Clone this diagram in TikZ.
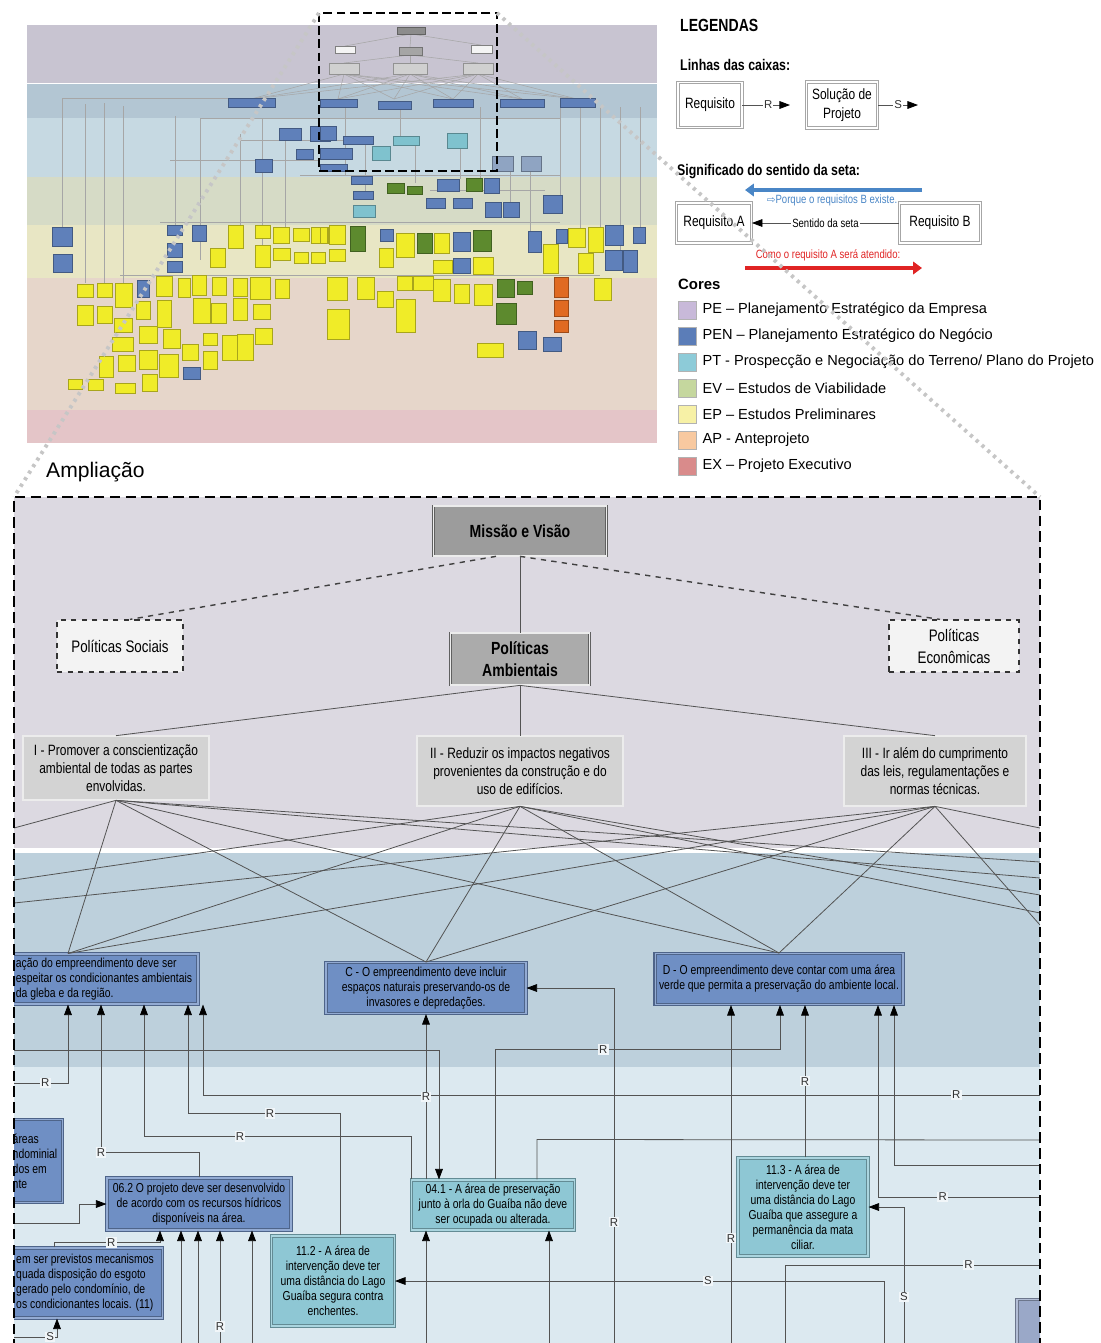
\documentclass[tikz,border=0pt]{standalone}
\usepackage{fontspec}
\setmainfont{Liberation Sans}
\newfontfamily\narrow[FakeStretch=0.8]{Liberation Sans}
\newfontfamily\symb{DejaVu Sans}
\usetikzlibrary{arrows.meta,calc}

% band colours
\definecolor{ovpe}{HTML}{C8C4D1}
\definecolor{ovpen}{HTML}{B3C6D3}
\definecolor{ovpt}{HTML}{C6D9E2}
\definecolor{ovev}{HTML}{D6DBC6}
\definecolor{ovep}{HTML}{E8E6C4}
\definecolor{ovap}{HTML}{E6D6CA}
\definecolor{ovex}{HTML}{E4C5C8}
\definecolor{bigpe}{HTML}{DCD9E1}
\definecolor{bigpen}{HTML}{BDD0DC}
\definecolor{bigpt}{HTML}{DCE9F0}
% box colours
\definecolor{penblue}{HTML}{6F8FC4}
\definecolor{ptcyan}{HTML}{8EC7D4}
\definecolor{cutgray}{HTML}{9AA8C8}
\definecolor{objfill}{HTML}{D3D3D3}
\definecolor{missfill}{HTML}{9C9C9C}
\definecolor{ambfill}{HTML}{ABABAB}
\definecolor{polfill}{HTML}{F3F3F3}
\definecolor{ovyellow}{HTML}{F0EC28}
\definecolor{ovblue}{HTML}{5F80BA}
\definecolor{ovgreen}{HTML}{5D8A2E}
\definecolor{ovcyan}{HTML}{7FC2CE}
\definecolor{ovorange}{HTML}{E06A22}
\definecolor{ovgrayblue}{HTML}{8FA4C2}
\definecolor{ovgrayA}{HTML}{8C8C8C}
\definecolor{ovgrayB}{HTML}{A5A5A5}
\definecolor{ovgrayC}{HTML}{D0D0D0}
\definecolor{ovwhite}{HTML}{F4F4F4}
% legend colours
\definecolor{pec}{HTML}{C8B9D9}
\definecolor{penc}{HTML}{5B7DB8}
\definecolor{ptc}{HTML}{8DCBD8}
\definecolor{evc}{HTML}{C5D79E}
\definecolor{epc}{HTML}{F7F1A6}
\definecolor{apc}{HTML}{F8C9A0}
\definecolor{exc}{HTML}{D98B8B}
\definecolor{legblue}{HTML}{4A86C6}
\definecolor{legred}{HTML}{E02424}

\tikzset{
  ovbox/.style={draw=#1!70!black, fill=#1, line width=0.25pt},
  ovline/.style={draw=gray!70, line width=0.3pt},
  rel/.style={draw=gray!65!black, line width=0.45pt},
  reqarrow/.style={-{Triangle[length=6pt,width=4.4pt,color=black]}},
  rlabel/.style={font=\fontsize{6.5}{7}\selectfont, fill=white!60!bigpt, inner sep=0.7pt, text=black!80},
  objbox/.style={draw=gray!75!black, double=gray!15, double distance=0.6pt, line width=0.4pt,
    fill=objfill, align=center, inner sep=1pt, font=\narrow\fontsize{8.5}{10.2}\selectfont},
  topbox/.style={objbox, fill=#1, font=\narrow\bfseries\fontsize{10}{12.5}\selectfont},
  polbox/.style={draw=black!80, dashed, line width=0.7pt, fill=polfill, align=center,
    font=\narrow\fontsize{9.5}{12.5}\selectfont},
  reqbox/.style={draw=#1!70!black, double=#1!75!white, double distance=0.6pt, line width=0.6pt,
    fill=#1, align=center, inner sep=1pt, font=\narrow\fontsize{7.4}{8.5}\selectfont},
  legbox/.style={draw=gray!70, double=white, double distance=0.8pt, line width=0.5pt, fill=white,
    align=center, font=\narrow\fontsize{8.5}{10.5}\selectfont},
  swatch/.style={draw=gray!60, fill=#1, minimum size=0.36cm, inner sep=0pt},
  zoomframe/.style={draw=black, line width=1.6pt, dash pattern=on 6pt off 3pt},
  dotline/.style={draw=gray!45, line width=2.2pt, dash pattern=on 1.8pt off 2.6pt},
}

\begin{document}
\begin{tikzpicture}[x=0.02cm, y=-0.02cm]
\useasboundingbox (0,0) rectangle (1101,1343);

% ---- overview
\fill[ovpe] (27,25) rectangle (657,83);
\fill[ovpen] (27,84) rectangle (657,118);
\fill[ovpt] (27,118) rectangle (657,177);
\fill[ovev] (27,177) rectangle (657,225);
\fill[ovep] (27,225) rectangle (657,278);
\fill[ovap] (27,278) rectangle (657,410);
\fill[ovex] (27,410) rectangle (657,443);

\foreach \a in {344,410,478}
  \foreach \b in {251,338,394,453,522,577}
    \draw[ovline] (\a,74) -- (\b,99);
\foreach \a/\b in {410/47, 345/46, 481/45}
  \draw[ovline] (411,34) -- (\a,\b);
\foreach \a in {344,410,478}
  \draw[ovline] (410,55) -- (\a,63);
\foreach \x/\a/\b in {62/98/227, 85/104/283, 104/103/283, 123/106/283, 175/116/225, 200/118/260,
    240/134/225, 262/118/245, 285/140/227, 345/107/176, 365/144/191, 400/109/136, 415/145/183,
    460/148/179, 480/107/178, 510/171/202, 530/171/231, 560/107/195, 580/107/228, 600/107/227,
    620/107/250, 640/107/227}
  \draw[ovline] (\x,\a) -- (\x,\b);
\foreach \y/\a/\b in {98/62/228, 118/200/560, 140/240/343, 160/170/320, 175/300/560, 222/160/560,
    275/120/600, 190/430/545}
  \draw[ovline] (\a,\y) -- (\b,\y);

\draw[ovbox=ovgrayA] (397,27) rectangle (425,34);
\draw[ovbox=ovgrayB] (399,47) rectangle (422,55);
\draw[ovbox=ovwhite, draw=gray] (335,46) rectangle (355,53);
\draw[ovbox=ovwhite, draw=gray] (471,45) rectangle (492,53);
\foreach \a/\b/\c/\d in {329/63/359/74, 393/63/427/74, 463/63/493/74}
  \draw[ovbox=ovgrayC] (\a,\b) rectangle (\c,\d);

\foreach \a/\b/\c/\d in {228/225/243/248, 255/225/270/238, 255/245/270/267, 273/227/289/243,
    273/248/290/260, 293/228/309/241, 294/252/308/263, 311/227/328/243, 311/252/325/263,
    210/248/225/267, 77/284/93/297, 97/283/112/297, 115/283/132/307, 77/305/93/325,
    97/306/112/323, 114/318/132/332, 112/337/133/351, 118/355/135/371, 99/356/113/377,
    88/379/103/390, 68/379/82/389, 115/383/135/393, 142/374/157/391, 136/301/150/319,
    139/326/157/343, 139/350/157/369, 156/276/172/296, 157/300/171/327, 163/329/180/348,
    159/354/178/377, 178/278/190/297, 182/344/198/360, 192/275/206/295, 193/298/210/323,
    203/333/217/345, 203/351/217/369, 212/277/226/295, 211/303/226/323, 222/335/237/360,
    233/278/247/296, 233/298/247/320, 237/334/253/360, 250/277/270/299, 253/304/270/319,
    255/328/272/344, 275/279/289/298, 320/227/327/243, 329/225/345/244, 329/249/345/261,
    379/248/393/267, 396/233/414/257, 434/233/449/253, 433/260/452/273, 473/257/493/274,
    543/244/558/273, 568/228/585/247, 578/253/593/273, 588/227/603/252, 327/277/347/300,
    327/309/349/339, 357/277/374/299, 377/291/393/307, 397/276/412/290, 396/299/415/332,
    413/276/433/290, 433/279/450/301, 454/284/469/303, 474/284/492/305, 477/343/503/357,
    594/278/611/300}
  \draw[ovbox=ovyellow] (\a,\b) rectangle (\c,\d);
\foreach \a/\b/\c/\d in {228/98/275/107, 320/99/357/107, 378/101/411/109, 433/99/473/107,
    500/99/544/107, 560/98/595/107, 279/128/301/140, 310/126/330/141, 296/149/313/159,
    255/159/272/172, 320/126/336/140, 343/136/373/144, 320/148/352/159, 320/164/347/171,
    351/176/372/184, 353/191/373/199, 437/179/459/191, 484/178/499/193, 426/198/445/208,
    453/198/472/208, 485/202/501/217, 503/202/519/217, 543/195/562/213, 52/227/72/246,
    53/254/72/272, 167/225/182/235, 167/243/182/257, 167/261/182/272, 192/225/206/241,
    380/229/393/241, 453/232/470/251, 453/258/470/273, 528/231/541/252, 556/229/567/243,
    605/225/623/245, 605/250/622/270, 623/250/637/272, 633/227/645/243, 137/280/149/297,
    183/367/200/379, 518/331/536/349, 543/337/561/351}
  \draw[ovbox=ovblue] (\a,\b) rectangle (\c,\d);
\foreach \a/\b/\c/\d in {393/136/419/145, 447/133/467/148, 372/146/390/160, 353/205/375/217}
  \draw[ovbox=ovcyan] (\a,\b) rectangle (\c,\d);
\foreach \a/\b/\c/\d in {492/156/513/171, 521/156/541/171}
  \draw[ovbox=ovgrayblue] (\a,\b) rectangle (\c,\d);
\foreach \a/\b/\c/\d in {387/183/404/193, 407/186/422/194, 466/178/482/191, 350/226/365/251,
    417/233/432/253, 473/230/491/251, 497/279/514/297, 517/281/532/294, 496/303/516/324}
  \draw[ovbox=ovgreen] (\a,\b) rectangle (\c,\d);
\foreach \a/\b/\c/\d in {554/277/568/297, 554/300/568/316, 554/320/568/332}
  \draw[ovbox=ovorange] (\a,\b) rectangle (\c,\d);

\draw[zoomframe, line width=1.4pt, dash pattern=on 5pt off 2.5pt] (319,13) rectangle (497,171);

% ---- legend
\node[anchor=west, font=\narrow\bfseries\fontsize{10}{12}\selectfont] (leg) at (674,25) {LEGENDAS};
\node[anchor=west, font=\narrow\bfseries\fontsize{8.8}{10}\selectfont] (linhas) at (674,65) {Linhas das caixas:};
\node[legbox, minimum width=1.28cm, minimum height=0.9cm] (lreq) at (710,105) {Requisito};
\node[legbox, minimum width=1.4cm, minimum height=0.92cm] (lsol) at (842,105) {Solução de\\Projeto};
\coordinate (lreqend) at (790,105);
\coordinate (lsolend) at (918,105);
\draw[rel, reqarrow] (lreq.east) -- (lreqend) node[rlabel, fill=white, pos=0.54] {R};
\draw[rel, reqarrow] (lsol.east) -- (lsolend) node[rlabel, fill=white, pos=0.5] {S};

\node[anchor=west, font=\narrow\bfseries\fontsize{8.8}{10}\selectfont] (signif) at (671,172) {Significado do sentido da seta:};
\coordinate (bwa) at (922,190);
\coordinate (bwb) at (745,190);
\draw[line width=2pt, draw=legblue, -{Triangle[length=5pt,width=7pt]}] (bwa) -- (bwb);
\node[font=\narrow\fontsize{6.8}{8}\selectfont, text=legblue] (why) at (832,200)
  {{\symb\fontsize{6}{8}\selectfont ⇨}Porque o requisitos B existe.};
\node[legbox, minimum width=1.5cm, minimum height=0.8cm] (lreqa) at (714,223) {Requisito A};
\node[legbox, minimum width=1.62cm, minimum height=0.8cm] (lreqb) at (940,223) {Requisito B};
\draw[rel, reqarrow] (lreqb) -- (lreqa)
  node[midway, fill=white, inner sep=1pt, font=\narrow\fontsize{6.8}{8}\selectfont] {Sentido da seta};
\node[font=\narrow\fontsize{6.8}{8}\selectfont, text=legred] (how) at (828,255) {Como o requisito A será atendido:};
\coordinate (rda) at (745,268);
\coordinate (rdb) at (922,268);
\draw[line width=2pt, draw=legred, -{Triangle[length=5pt,width=7pt]}] (rda) -- (rdb);

\node[anchor=west, font=\bfseries\fontsize{8.5}{10}\selectfont] (cores) at (672,284) {Cores};
\foreach \c/\t [count=\i from 0] in {pec/{PE – Planejamento Estratégico da Empresa},
    penc/{PEN – Planejamento Estratégico do Negócio},
    ptc/{PT - Prospecção e Negociação do Terreno/ Plano do Projeto},
    evc/{EV – Estudos de Viabilidade}, epc/{EP – Estudos Preliminares},
    apc/{AP - Anteprojeto}, exc/{EX – Projeto Executivo}}{
  \node[swatch=\c] (sw\i) at (687,310+26*\i) {};
  \node[anchor=west, font=\fontsize{8.3}{10}\selectfont] (lb\i) at (sw\i.east) {\t};
}

\node[anchor=west, font=\fontsize{12}{14}\selectfont] (ampl) at (40,472) {Ampliação};

% ---- enlarged part
\begin{scope}
\clip (14,497) rectangle (1040,1343);
\fill[bigpe] (14,497) rectangle (1040,848);
\fill[white] (14,848) rectangle (1040,853);
\fill[bigpen] (14,853) rectangle (1040,1067);
\fill[bigpt] (14,1067) rectangle (1040,1343);

\node[topbox=missfill, minimum width=3.46cm, minimum height=1cm] (miss) at (520,531) {Missão e Visão};
\node[polbox, minimum width=2.52cm, minimum height=1.04cm] (soc) at (120,646) {Políticas Sociais};
\node[topbox=ambfill, minimum width=2.78cm, minimum height=1.04cm] (amb) at (520,659) {Políticas\\Ambientais};
\node[polbox, minimum width=2.6cm, minimum height=1.04cm] (eco) at (954,646) {Políticas\\Econômicas};
\node[objbox, minimum width=3.72cm, minimum height=1.28cm] (o1) at (116,768)
  {I - Promover a conscientização\\ambiental de todas as partes\\envolvidas.};
\node[objbox, minimum width=4.12cm, minimum height=1.4cm] (o2) at (520,771)
  {II - Reduzir os impactos negativos\\provenientes da construção e do\\uso de edifícios.};
\node[objbox, minimum width=3.64cm, minimum height=1.4cm] (o3) at (935,771)
  {III - Ir além do cumprimento\\das leis, regulamentações e\\normas técnicas.};

\node[reqbox=penblue, minimum width=3.76cm, minimum height=1cm, align=left] (ra) at (104,979)
  {ação do empreendimento deve ser\\espeitar os condicionantes ambientais\\da gleba e da região.};
\node[reqbox=penblue, minimum width=4cm, minimum height=1.02cm] (rc) at (426,988)
  {C - O empreendimento deve incluir\\espaços naturais preservando-os de\\invasores e depredações.};
\node[reqbox=penblue, minimum width=4.96cm, minimum height=1.02cm] (rd) at (779,979)
  {D - O empreendimento deve contar com uma área\\verde que permita a preservação do ambiente local.};
\node[reqbox=penblue, minimum width=1.1cm, minimum height=1.66cm, align=left] (rareas) at (35,1161)
  {áreas\\ndominial\\dos em\\nte};
\node[reqbox=penblue, minimum width=3.68cm, minimum height=1.04cm] (r62) at (199,1204)
  {06.2 O projeto deve ser desenvolvido\\de acordo com os recursos hídricos\\disponíveis na área.};
\node[reqbox=penblue, minimum width=3.1cm, minimum height=1.4cm, align=left] (rlow) at (85,1283)
  {em ser previstos mecanismos\\quada disposição do esgoto\\gerado pelo condomínio, de\\os condicionantes locais. (11)};
\node[reqbox=ptcyan, minimum width=3.26cm, minimum height=1cm] (r41) at (493,1205)
  {04.1 - A área de preservação\\junto à orla do Guaíba não deve\\ser ocupada ou alterada.};
\node[reqbox=ptcyan, minimum width=2.46cm, minimum height=1.8cm] (r112) at (333,1281)
  {11.2 - A área de\\intervenção deve ter\\uma distância do Lago\\Guaíba segura contra\\enchentes.};
\node[reqbox=ptcyan, minimum width=2.6cm, minimum height=1.96cm] (r113) at (803,1207)
  {11.3 - A área de\\intervenção deve ter\\uma distância do Lago\\Guaíba que assegure a\\permanência da mata\\ciliar.};
\node[reqbox=cutgray, minimum width=0.92cm, minimum height=0.9cm] (rcut) at (1040,1322) {};

% policies
\draw[rel, line width=0.8pt, dashed, draw=black!75] ($(miss.south)+(-24,0)$) -- ($(soc.north)+(10,0)$);
\draw[rel, line width=0.8pt, dashed, draw=black!75] (miss.south) -- ($(eco.north)+(-14,0)$);
\draw[rel] (miss) -- (amb);
\foreach \s in {o1,o2,o3}
  \draw[rel] (amb.south) -- (\s.north);

% tangle between objectives and requirements
\coordinate (w1) at (14,828);
\coordinate (w2) at (14,880);
\coordinate (w3) at (14,903);
\coordinate (e1) at (1040,828);
\coordinate (e2) at (1040,862);
\coordinate (e3) at (1040,878);
\coordinate (e4) at (1040,895);
\coordinate (e5) at (1040,913);
\coordinate (e6) at (1040,925);
\foreach \s in {o1,o2,o3}{
  \draw[rel] (\s.south) -- ($(ra.north)+(-36,0)$);
  \draw[rel] (\s.south) -- (rc.north);
  \draw[rel] (\s.south) -- (rd.north);
}
\foreach \s/\e in {o1/w1, o2/w2, o3/w3, o1/e2, o1/e3, o2/e4, o2/e5, o3/e1, o3/e6}
  \draw[rel] (\s.south) -- (\e);

% R and S links
\coordinate (l1050) at (14,1050);
\coordinate (l1083) at (14,1083);
\coordinate (l1223) at (14,1223);
\coordinate (l1337) at (14,1337);
\coordinate (e1095) at (1040,1095);
\coordinate (e1140) at (1040,1140);
\coordinate (e1165) at (1040,1165);
\coordinate (e1197) at (1040,1197);
\coordinate (e1265) at (1040,1265);
\coordinate (s614) at (614,1343);
\coordinate (s731) at (731,1343);
\coordinate (s785) at (785,1343);
\coordinate (s884) at (884,1343);
\coordinate (s904) at (904,1343);

\draw[rel, reqarrow] (l1083) -| ($(ra.south)+(-36,0)$) node[rlabel, pos=0.29] {R};
\draw[rel, reqarrow] (r62.north) -- ++(0,-25) -| ($(ra.south)+(-3,0)$) node[rlabel, pos=0.5] {R};
\draw[rel, reqarrow] (r41.north west) -- ++(0,-43) -| ($(ra.south)+(40,0)$) node[rlabel, pos=0.32] {R};
\draw[rel, reqarrow] ($(r112.north)+(7,0)$) -- ++(0,-122) -| ($(ra.south)+(84,0)$) node[rlabel, pos=0.23] {R};
\draw[rel, reqarrow] (e1095) -| ($(ra.south)+(99,0)$) node[rlabel, pos=0.05] {R};
\draw[rel, reqarrow] (l1050) -| ($(r41.north)+(-54,0)$);
\draw[rel, reqarrow] ($(r41.north)+(-67,0)$) -- (rc.south) node[rlabel, pos=0.5] {R};
\draw[rel, reqarrow] ($(r41.north)+(2,0)$) -- ++(0,-130) -| ($(rd.south)+(1,0)$) node[rlabel, pos=0.19] {R};
\draw[rel] ($(r41.north)+(44,0)$) -- ++(0,-40) -- (e1140);
\draw[rel, reqarrow] (s731) -- ($(rd.south)+(-48,0)$) node[rlabel, pos=0.31] {R};
\draw[rel, reqarrow] ($(r113.north)+(2,0)$) -- ($(rd.south)+(26,0)$) node[rlabel, pos=0.5] {R};
\draw[rel, reqarrow] (e1197) -| ($(rd.south)+(99,0)$) node[rlabel, pos=0.3] {R};
\draw[rel, reqarrow] (e1165) -| ($(rd.south)+(115,0)$);
\draw[rel, reqarrow] (s614) |- (rc.east) node[rlabel, pos=0.17] {R};
\draw[rel, reqarrow] (l1223) -- ++(65,0) |- (r62.west);
\draw[rel, reqarrow] ($(rlow.north)+(-31,0)$) -- ++(0,-5) -| ($(r62.south)+(-39,0)$) node[rlabel, pos=0.27] {R};
\foreach \dx in {-18,-1,53}
  \draw[rel, reqarrow] ($(r62.south)+(\dx,150)$) -- ($(r62.south)+(\dx,0)$);
\draw[rel, reqarrow] ($(r62.south)+(21,150)$) -- ($(r62.south)+(21,0)$) node[rlabel, pos=0.36] {R};
\foreach \dx in {-67,56}
  \draw[rel, reqarrow] ($(r41.south)+(\dx,150)$) -- ($(r41.south)+(\dx,0)$);
\draw[rel, reqarrow] (s884) |- (r112.east) node[rlabel, pos=0.68] {S};
\draw[rel, reqarrow] (s904) |- (r113.east) node[rlabel, pos=0.17] {S};
\draw[rel] (e1265) -| (s785) node[rlabel, pos=0.14] {R};
\draw[rel, reqarrow] (l1337) -| ($(rlow.south)+(-28,0)$) node[rlabel, pos=0.42] {S};
\end{scope}

% frames and zoom guides
\draw[zoomframe] (14,1350) -- (14,497) -- (1040,497) -- (1040,1350);
\coordinate (ovnw) at (319,13);
\coordinate (ovne) at (497,13);
\coordinate (bignw) at (14,497);
\coordinate (bigne) at (1040,497);
\draw[dotline] (ovnw) -- (bignw);
\draw[dotline] (ovne) -- (bigne);

\end{tikzpicture}
\end{document}
